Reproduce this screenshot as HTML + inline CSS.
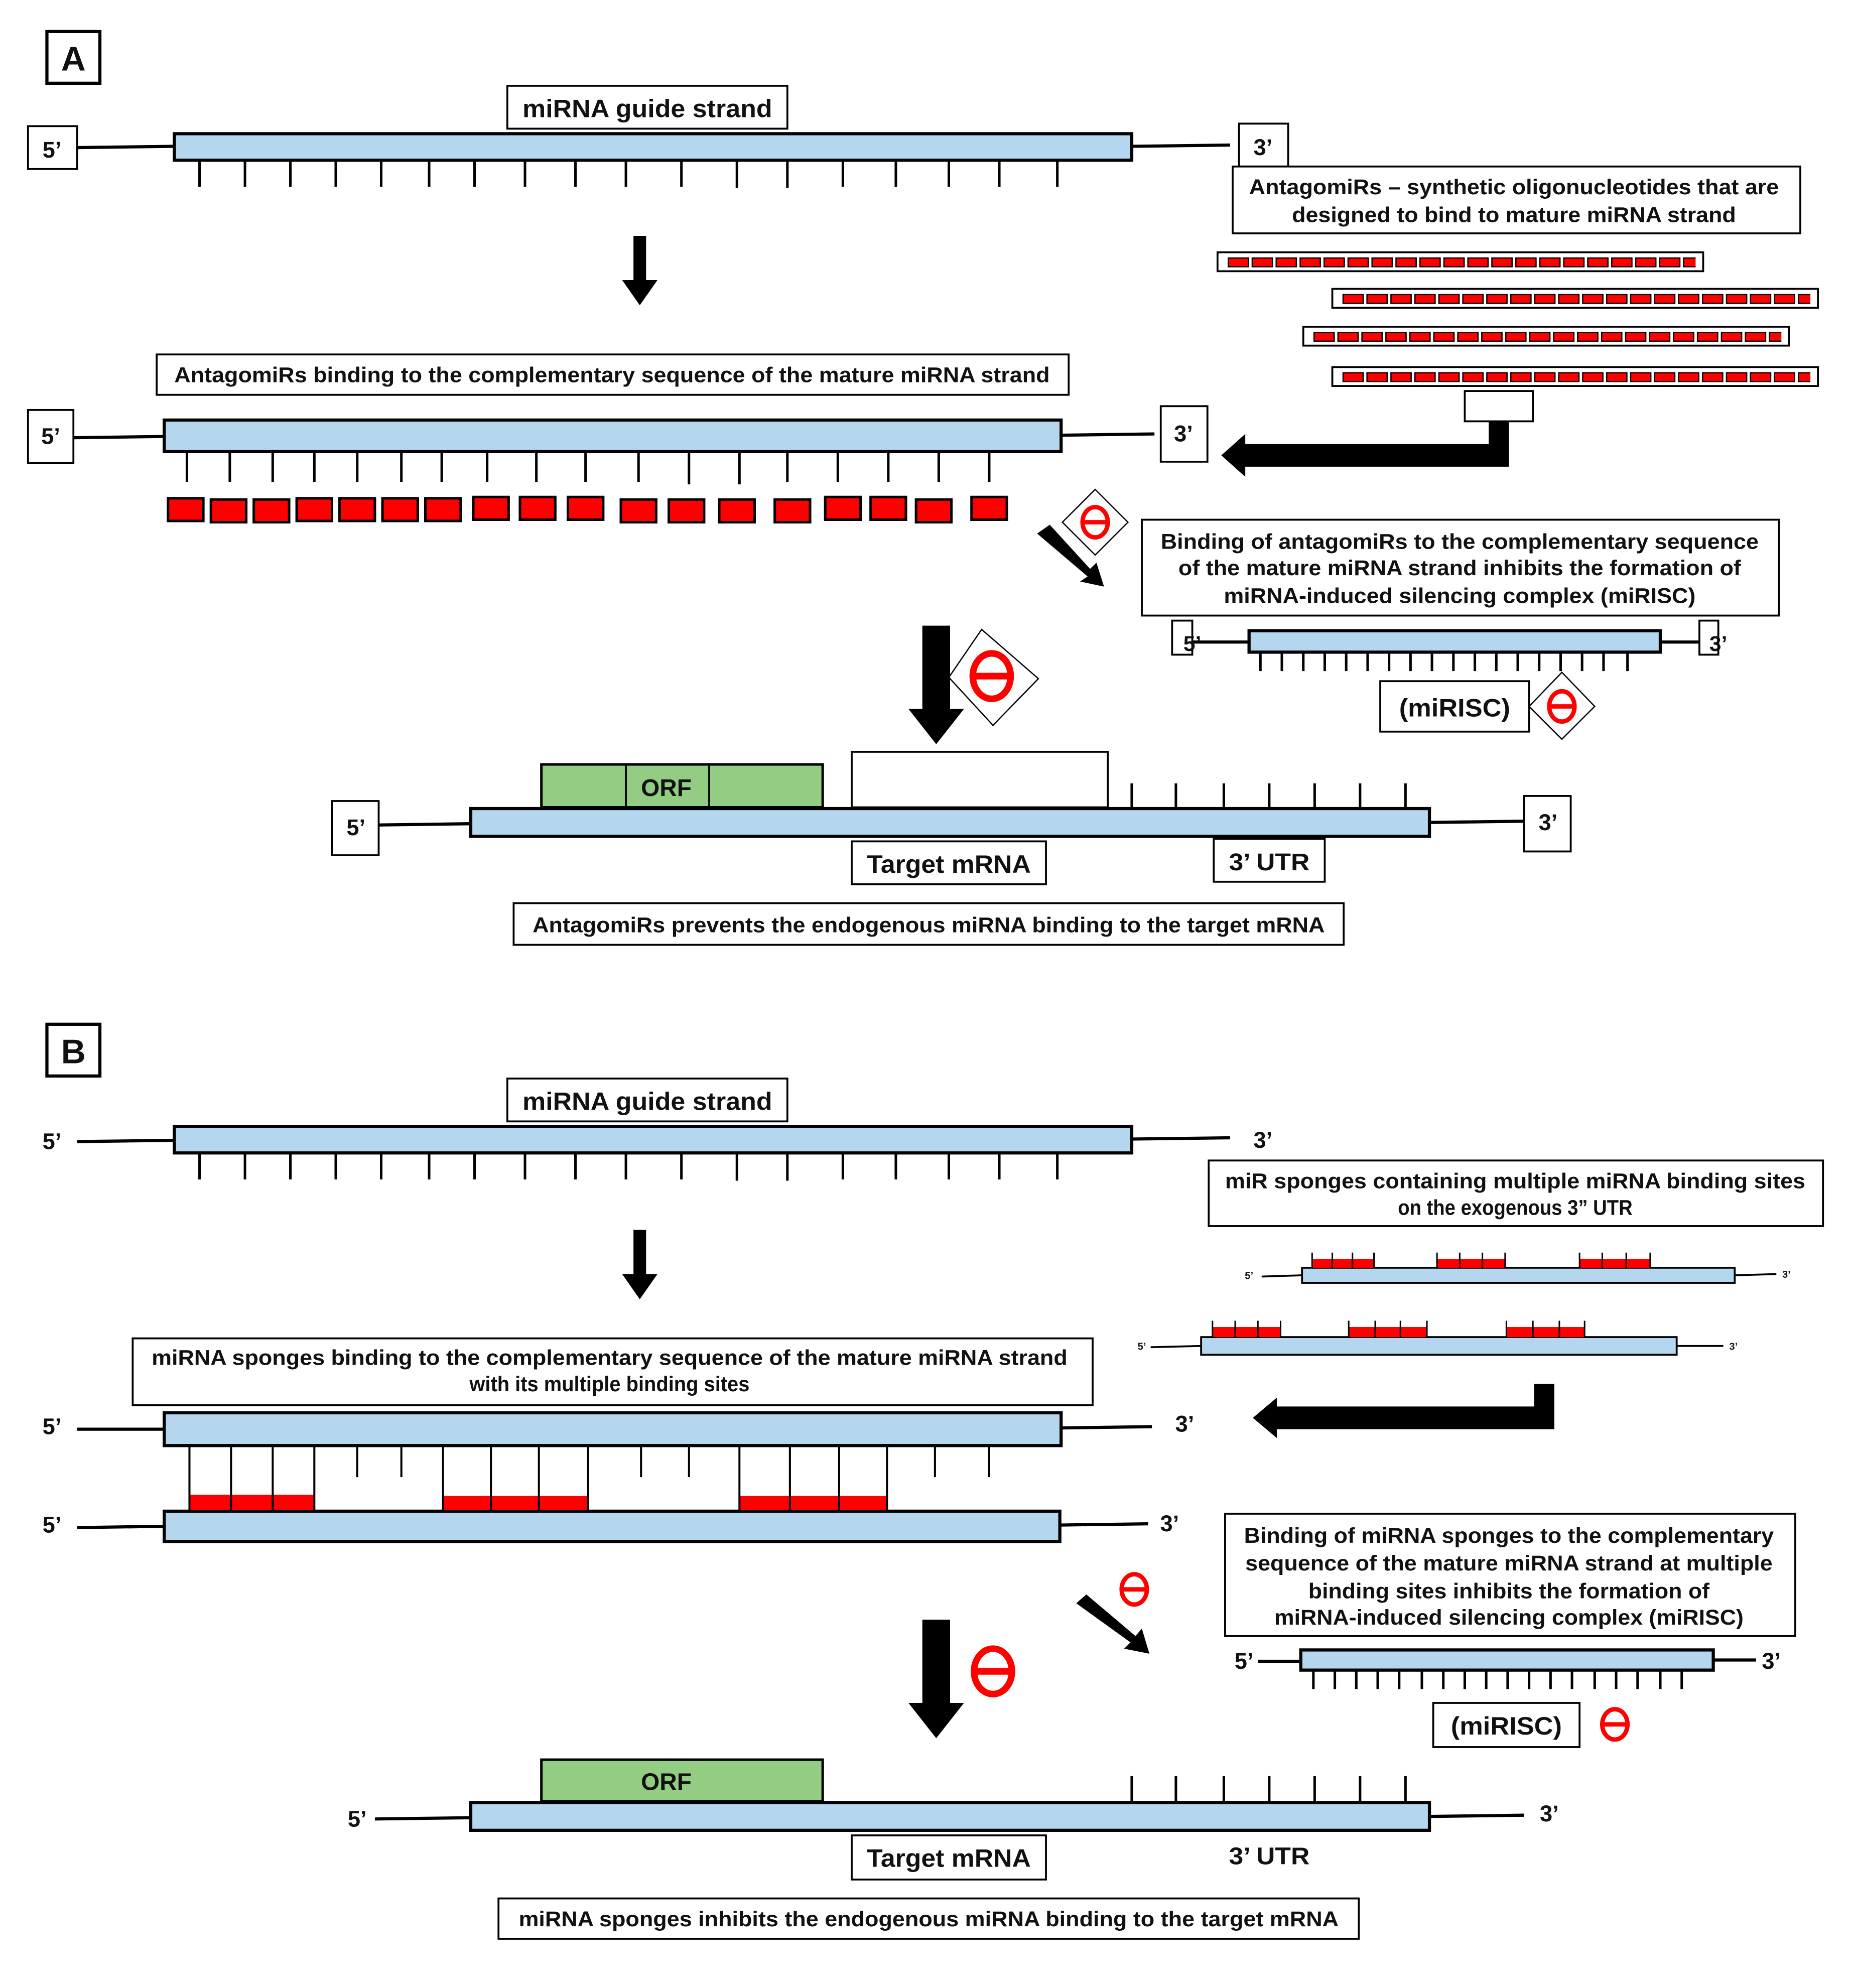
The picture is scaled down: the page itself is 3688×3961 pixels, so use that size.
<!DOCTYPE html>
<html><head><meta charset="utf-8">
<style>
html,body{margin:0;padding:0;background:#fff;}
svg{display:block;}
text{font-family:"Liberation Sans",Arial,sans-serif;font-weight:bold;fill:#111;}
</style></head>
<body>
<svg xmlns="http://www.w3.org/2000/svg" width="3688" height="3961" viewBox="0 0 1467 1576">
<defs>
<pattern id="r1" patternUnits="userSpaceOnUse" x="973" y="204" width="19" height="20"><rect x="0.5" y="0.5" width="16" height="7" fill="#f00" stroke="#000" stroke-width="1"/></pattern>
<pattern id="r2" patternUnits="userSpaceOnUse" x="1064" y="233" width="19" height="20"><rect x="0.5" y="0.5" width="16" height="7" fill="#f00" stroke="#000" stroke-width="1"/></pattern>
<pattern id="r3" patternUnits="userSpaceOnUse" x="1041" y="263" width="19" height="20"><rect x="0.5" y="0.5" width="16" height="7" fill="#f00" stroke="#000" stroke-width="1"/></pattern>
<pattern id="r4" patternUnits="userSpaceOnUse" x="1064" y="295" width="19" height="20"><rect x="0.5" y="0.5" width="16" height="7" fill="#f00" stroke="#000" stroke-width="1"/></pattern>
<g id="inh"><ellipse cx="0" cy="0" rx="10" ry="12" fill="none" stroke="#f00" stroke-width="3.5"/><line x1="-10" y1="0" x2="10" y2="0" stroke="#f00" stroke-width="3.5"/></g>
</defs>
<g stroke="#000" fill="none">
<!-- PANEL A -->
<rect x="37" y="25" width="42" height="41" stroke-width="2.5" fill="#fff"/>
<rect x="402" y="68" width="222" height="34" stroke-width="1.5" fill="#fff"/>
<rect x="22" y="100" width="39" height="34" stroke-width="1.5" fill="#fff"/>
<line x1="61" y1="117" x2="138" y2="116" stroke-width="2.5"/>
<rect x="138" y="106" width="759" height="21" fill="#b4d7ef" stroke-width="2.5"/>
<line x1="897" y1="116" x2="975" y2="115" stroke-width="2.5"/>
<rect x="982" y="98" width="39" height="34" stroke-width="1.5" fill="#fff"/>
<path stroke-width="2" d="M158 127v21M194 127v21M230 127v21M266 127v21M302 127v21M340 127v21M376 127v21M416 127v21M456 127v21M496 127v21M540 127v21M584 127v22M624 127v22M668 127v21M710 127v21M752 127v21M792 127v21M838 127v21"/>
<rect x="977" y="132" width="450" height="53" stroke-width="1.5" fill="#fff"/>
<rect x="965" y="200" width="385" height="15" stroke-width="1.5" fill="#fff"/>
<rect x="973" y="204" width="371" height="8" stroke="none" fill="url(#r1)"/>
<rect x="1056" y="229" width="385" height="15" stroke-width="1.5" fill="#fff"/>
<rect x="1064" y="233" width="371" height="8" stroke="none" fill="url(#r2)"/>
<rect x="1033" y="259" width="385" height="15" stroke-width="1.5" fill="#fff"/>
<rect x="1041" y="263" width="371" height="8" stroke="none" fill="url(#r3)"/>
<rect x="1056" y="291" width="385" height="15" stroke-width="1.5" fill="#fff"/>
<rect x="1064" y="295" width="371" height="8" stroke="none" fill="url(#r4)"/>
<rect x="1161" y="310" width="54" height="24" stroke-width="1.5" fill="#fff"/>
<rect x="124" y="281" width="723" height="32" stroke-width="1.5" fill="#fff"/>
<rect x="22" y="325" width="36" height="42" stroke-width="1.5" fill="#fff"/>
<line x1="58" y1="347" x2="130" y2="346" stroke-width="2.5"/>
<rect x="130" y="333" width="711" height="25" fill="#b4d7ef" stroke-width="2.5"/>
<line x1="841" y1="345" x2="915" y2="344" stroke-width="2.5"/>
<rect x="920" y="322" width="37" height="44" stroke-width="1.5" fill="#fff"/>
<path stroke-width="2" d="M148 358v24M182 358v24M216 358v24M249 358v24M283 358v24M318 358v24M350 358v24M386 358v24M425 358v24M464 358v24M506 358v24M546 358v26M586 358v26M624 358v24M664 358v24M704 358v24M744 358v24M784 358v24"/>
<rect x="905" y="412" width="505" height="76" stroke-width="1.5" fill="#fff"/>
<rect x="929" y="492" width="16" height="27" stroke-width="1.5" fill="#fff"/>
<line x1="945" y1="509" x2="990" y2="509" stroke-width="2.5"/>
<rect x="990" y="500" width="326" height="17" fill="#b4d7ef" stroke-width="2.5"/>
<line x1="1316" y1="509" x2="1347" y2="509" stroke-width="2.5"/>
<rect x="1347" y="492" width="15" height="27" stroke-width="1.5" fill="#fff"/>
<path stroke-width="2" d="M999 517v15M1016 517v15M1033 517v15M1050 517v15M1067 517v15M1084 517v15M1101 517v15M1118 517v15M1135 517v15M1152 517v15M1169 517v15M1186 517v15M1203 517v15M1220 517v15M1237 517v15M1254 517v15M1271 517v15M1290 517v15"/>
<rect x="1094" y="540" width="118" height="40" stroke-width="1.5" fill="#fff"/>
<rect x="429" y="606" width="223" height="34" fill="#93cd84" stroke-width="2"/>
<path stroke-width="1.5" d="M496 606v34M562 606v34"/>
<rect x="675" y="596" width="203" height="44" stroke-width="1.5" fill="#fff"/>
<path stroke-width="2" d="M897 621v20M932 621v20M970 621v20M1006 621v20M1042 621v20M1078 621v20M1114 621v20"/>
<rect x="263" y="635" width="37" height="43" stroke-width="1.5" fill="#fff"/>
<line x1="300" y1="654" x2="373" y2="653" stroke-width="2.5"/>
<rect x="373" y="641" width="760" height="22" fill="#b4d7ef" stroke-width="2.5"/>
<line x1="1133" y1="652" x2="1208" y2="651" stroke-width="2.5"/>
<rect x="1208" y="631" width="37" height="44" stroke-width="1.5" fill="#fff"/>
<rect x="675" y="667" width="154" height="34" stroke-width="1.5" fill="#fff"/>
<rect x="962" y="665" width="88" height="34" stroke-width="1.5" fill="#fff"/>
<rect x="407" y="716" width="658" height="33" stroke-width="1.5" fill="#fff"/>
<polygon points="868,388 894,414 868,440 842,414" stroke-width="1" fill="#fff"/>
<polygon points="778,499 823,538 787,575 752,537" stroke-width="1" fill="#fff"/>
<polygon points="1238,533 1264,560 1238,586 1212,560" stroke-width="1" fill="#fff"/>
</g>
<g fill="#f00" stroke="#000" stroke-width="2">
<rect x="133" y="395" width="28" height="18"/><rect x="167" y="396" width="28" height="18"/><rect x="201" y="396" width="28" height="18"/><rect x="235" y="395" width="28" height="18"/><rect x="269" y="395" width="28" height="18"/><rect x="303" y="395" width="28" height="18"/><rect x="337" y="395" width="28" height="18"/><rect x="375" y="394" width="28" height="18"/><rect x="412" y="394" width="28" height="18"/><rect x="450" y="394" width="28" height="18"/><rect x="492" y="396" width="28" height="18"/><rect x="530" y="396" width="28" height="18"/><rect x="570" y="396" width="28" height="18"/><rect x="614" y="396" width="28" height="18"/><rect x="654" y="394" width="28" height="18"/><rect x="690" y="394" width="28" height="18"/><rect x="726" y="396" width="28" height="18"/><rect x="770" y="394" width="28" height="18"/>
</g>
<g fill="#000">
<polygon points="502,187 512,187 512,222 521,222 507,242 493,222 502,222"/>
<polygon points="1180,334 1196,334 1196,370 987,370 987,378 968,361 987,344 987,352 1180,352"/>
<polygon points="822,423 832,416 864,451 869,446 875,465 856,461 862,457"/>
<polygon points="731,496 753,496 753,562 764,562 742,590 720,562 731,562"/>
</g>
<use href="#inh" x="868" y="414"/>
<use href="#inh" transform="translate(786,536) scale(1.5)"/>
<use href="#inh" x="1238" y="560"/>
<text x="58" y="56" font-size="27" text-anchor="middle">A</text>
<text x="513" y="93" font-size="20" text-anchor="middle" textLength="198" lengthAdjust="spacingAndGlyphs">miRNA guide strand</text>
<text x="41" y="125" font-size="18" text-anchor="middle">5’</text>
<text x="1001" y="123" font-size="18" text-anchor="middle">3’</text>
<text x="1200" y="154" font-size="17" text-anchor="middle" textLength="420" lengthAdjust="spacingAndGlyphs">AntagomiRs – synthetic oligonucleotides that are</text>
<text x="1200" y="176" font-size="17" text-anchor="middle" textLength="352" lengthAdjust="spacingAndGlyphs">designed to bind to mature miRNA strand</text>
<text x="485" y="303" font-size="17" text-anchor="middle" textLength="694" lengthAdjust="spacingAndGlyphs">AntagomiRs binding to the complementary sequence of the mature miRNA strand</text>
<text x="40" y="352" font-size="18" text-anchor="middle">5’</text>
<text x="938" y="350" font-size="18" text-anchor="middle">3’</text>
<text x="1157" y="435" font-size="17" text-anchor="middle" textLength="474" lengthAdjust="spacingAndGlyphs">Binding of antagomiRs to the complementary sequence</text>
<text x="1157" y="456" font-size="17" text-anchor="middle" textLength="446" lengthAdjust="spacingAndGlyphs">of the mature miRNA strand inhibits the formation of</text>
<text x="1157" y="478" font-size="17" text-anchor="middle" textLength="374" lengthAdjust="spacingAndGlyphs">miRNA-induced silencing complex (miRISC)</text>
<text x="945" y="516" font-size="17" text-anchor="middle">5’</text>
<text x="1362" y="516" font-size="17" text-anchor="middle">3’</text>
<text x="1153" y="568" font-size="20" text-anchor="middle" textLength="88" lengthAdjust="spacingAndGlyphs">(miRISC)</text>
<text x="528" y="631" font-size="19" text-anchor="middle">ORF</text>
<text x="282" y="662" font-size="18" text-anchor="middle">5’</text>
<text x="1227" y="658" font-size="18" text-anchor="middle">3’</text>
<text x="752" y="692" font-size="20" text-anchor="middle" textLength="130" lengthAdjust="spacingAndGlyphs">Target mRNA</text>
<text x="1006" y="690" font-size="19" text-anchor="middle" textLength="64" lengthAdjust="spacingAndGlyphs">3’ UTR</text>
<text x="736" y="739" font-size="17" text-anchor="middle" textLength="628" lengthAdjust="spacingAndGlyphs">AntagomiRs prevents the endogenous miRNA binding to the target mRNA</text>

<g stroke="#000" fill="none">
<rect x="37" y="812" width="42" height="41" stroke-width="2.5" fill="#fff"/>
<rect x="402" y="855" width="222" height="34" stroke-width="1.5" fill="#fff"/>
<line x1="61" y1="905" x2="138" y2="904" stroke-width="2.5"/>
<rect x="138" y="893" width="759" height="21" fill="#b4d7ef" stroke-width="2.5"/>
<line x1="897" y1="903" x2="975" y2="902" stroke-width="2.5"/>
<path stroke-width="2" d="M158 914v21M194 914v21M230 914v21M266 914v21M302 914v21M340 914v21M376 914v21M416 914v21M456 914v21M496 914v21M540 914v21M584 914v22M624 914v22M668 914v21M710 914v21M752 914v21M792 914v21M838 914v21"/>
<rect x="958" y="920" width="487" height="52" stroke-width="1.5" fill="#fff"/>
<line x1="1000" y1="1012" x2="1032" y2="1011" stroke-width="1.5"/>
<rect x="1032" y="1005" width="343" height="12" fill="#b4d7ef" stroke-width="1.5"/>
<line x1="1375" y1="1011" x2="1408" y2="1010" stroke-width="1.5"/>
<g fill="#f00" stroke="none"><rect x="1040" y="998" width="49" height="7"/><rect x="1139" y="998" width="54" height="7"/><rect x="1252" y="998" width="56" height="7"/></g>
<path stroke-width="1.2" d="M1040 993v12M1056 993v12M1072 993v12M1089 993v12M1139 993v12M1157 993v12M1175 993v12M1193 993v12M1252 993v12M1270 993v12M1289 993v12M1308 993v12"/>
<line x1="912" y1="1068" x2="952" y2="1067" stroke-width="1.5"/>
<rect x="952" y="1060" width="377" height="14" fill="#b4d7ef" stroke-width="1.5"/>
<line x1="1329" y1="1067" x2="1366" y2="1067" stroke-width="1.5"/>
<g fill="#f00" stroke="none"><rect x="961" y="1052" width="54" height="8"/><rect x="1069" y="1052" width="62" height="8"/><rect x="1194" y="1052" width="62" height="8"/></g>
<path stroke-width="1.2" d="M961 1047v13M979 1047v13M997 1047v13M1015 1047v13M1069 1047v13M1090 1047v13M1110 1047v13M1131 1047v13M1194 1047v13M1215 1047v13M1236 1047v13M1256 1047v13"/>
<rect x="105" y="1061" width="761" height="53" stroke-width="1.5" fill="#fff"/>
<line x1="61" y1="1133" x2="130" y2="1133" stroke-width="2.5"/>
<rect x="130" y="1120" width="711" height="26" fill="#b4d7ef" stroke-width="2.5"/>
<line x1="841" y1="1132" x2="913" y2="1131" stroke-width="2.5"/>
<line x1="61" y1="1211" x2="130" y2="1210" stroke-width="2.5"/>
<rect x="130" y="1198" width="710" height="24" fill="#b4d7ef" stroke-width="2.5"/>
<line x1="840" y1="1209" x2="910" y2="1208" stroke-width="2.5"/>
<g fill="#f00" stroke="none"><rect x="150" y="1185" width="99" height="12"/><rect x="351" y="1186" width="115" height="11"/><rect x="586" y="1186" width="117" height="11"/></g>
<path stroke-width="1.6" d="M150 1146v52M183 1146v52M216 1146v52M249 1146v52M351 1146v52M389 1146v52M427 1146v52M466 1146v52M586 1146v52M626 1146v52M665 1146v52M703 1146v52M283 1146v25M318 1146v25M508 1146v25M546 1146v25M741 1146v25M784 1146v25"/>
<rect x="971" y="1200" width="452" height="97" stroke-width="1.5" fill="#fff"/>
<line x1="997" y1="1317" x2="1031" y2="1317" stroke-width="2.5"/>
<rect x="1031" y="1308" width="327" height="16" fill="#b4d7ef" stroke-width="2.5"/>
<line x1="1358" y1="1316" x2="1392" y2="1316" stroke-width="2.5"/>
<path stroke-width="2" d="M1041 1324v15M1058 1324v15M1075 1324v15M1092 1324v15M1109 1324v15M1127 1324v15M1144 1324v15M1161 1324v15M1178 1324v15M1195 1324v15M1212 1324v15M1229 1324v15M1246 1324v15M1264 1324v15M1281 1324v15M1298 1324v15M1316 1324v15M1333 1324v15"/>
<rect x="1136" y="1350" width="116" height="35" stroke-width="1.5" fill="#fff"/>
<rect x="429" y="1395" width="223" height="33" fill="#93cd84" stroke-width="2"/>
<path stroke-width="2" d="M897 1408v21M932 1408v21M970 1408v21M1006 1408v21M1042 1408v21M1078 1408v21M1114 1408v21"/>
<line x1="297" y1="1442" x2="373" y2="1441" stroke-width="2.5"/>
<rect x="373" y="1429" width="760" height="22" fill="#b4d7ef" stroke-width="2.5"/>
<line x1="1133" y1="1440" x2="1208" y2="1439" stroke-width="2.5"/>
<rect x="675" y="1455" width="154" height="35" stroke-width="1.5" fill="#fff"/>
<rect x="395" y="1505" width="682" height="32" stroke-width="1.5" fill="#fff"/>
</g>
<g fill="#000">
<polygon points="502,975 512,975 512,1010 521,1010 507,1030 493,1010 502,1010"/>
<polygon points="1216,1097 1232,1097 1232,1133 1012,1133 1012,1140 993,1124 1012,1108 1012,1115 1216,1115"/>
<polygon points="853,1271 861,1264 900,1297 905,1291 911,1311 891,1307 896,1302"/>
<polygon points="731,1284 753,1284 753,1350 764,1350 742,1378 720,1350 731,1350"/>
</g>
<use href="#inh" x="899" y="1260"/>
<use href="#inh" transform="translate(787,1325) scale(1.5)"/>
<use href="#inh" x="1280" y="1367"/>
<text x="58" y="843" font-size="27" text-anchor="middle">B</text>
<text x="513" y="880" font-size="20" text-anchor="middle" textLength="198" lengthAdjust="spacingAndGlyphs">miRNA guide strand</text>
<text x="41" y="911" font-size="18" text-anchor="middle">5’</text>
<text x="1001" y="910" font-size="18" text-anchor="middle">3’</text>
<text x="1201" y="942" font-size="17" text-anchor="middle" textLength="460" lengthAdjust="spacingAndGlyphs">miR sponges containing multiple miRNA binding sites</text>
<text x="1201" y="963" font-size="17" text-anchor="middle" textLength="186" lengthAdjust="spacingAndGlyphs">on the exogenous 3” UTR</text>
<text x="990" y="1014" font-size="8" text-anchor="middle">5’</text>
<text x="1416" y="1013" font-size="8" text-anchor="middle">3’</text>
<text x="905" y="1070" font-size="8" text-anchor="middle">5’</text>
<text x="1374" y="1070" font-size="8" text-anchor="middle">3’</text>
<text x="483" y="1082" font-size="17" text-anchor="middle" textLength="726" lengthAdjust="spacingAndGlyphs">miRNA sponges binding to the complementary sequence of the mature miRNA strand</text>
<text x="483" y="1103" font-size="17" text-anchor="middle" textLength="222" lengthAdjust="spacingAndGlyphs">with its multiple binding sites</text>
<text x="41" y="1137" font-size="18" text-anchor="middle">5’</text>
<text x="939" y="1135" font-size="18" text-anchor="middle">3’</text>
<text x="41" y="1215" font-size="18" text-anchor="middle">5’</text>
<text x="927" y="1214" font-size="18" text-anchor="middle">3’</text>
<text x="1196" y="1223" font-size="17" text-anchor="middle" textLength="420" lengthAdjust="spacingAndGlyphs">Binding of miRNA sponges to the complementary</text>
<text x="1196" y="1245" font-size="17" text-anchor="middle" textLength="418" lengthAdjust="spacingAndGlyphs">sequence of the mature miRNA strand at multiple</text>
<text x="1196" y="1267" font-size="17" text-anchor="middle" textLength="318" lengthAdjust="spacingAndGlyphs">binding sites inhibits the formation of</text>
<text x="1196" y="1288" font-size="17" text-anchor="middle" textLength="372" lengthAdjust="spacingAndGlyphs">miRNA-induced silencing complex (miRISC)</text>
<text x="986" y="1323" font-size="18" text-anchor="middle">5’</text>
<text x="1404" y="1323" font-size="18" text-anchor="middle">3’</text>
<text x="1194" y="1375" font-size="20" text-anchor="middle" textLength="88" lengthAdjust="spacingAndGlyphs">(miRISC)</text>
<text x="528" y="1419" font-size="19" text-anchor="middle">ORF</text>
<text x="283" y="1448" font-size="18" text-anchor="middle">5’</text>
<text x="1228" y="1444" font-size="18" text-anchor="middle">3’</text>
<text x="752" y="1480" font-size="20" text-anchor="middle" textLength="130" lengthAdjust="spacingAndGlyphs">Target mRNA</text>
<text x="1006" y="1478" font-size="19" text-anchor="middle" textLength="64" lengthAdjust="spacingAndGlyphs">3’ UTR</text>
<text x="736" y="1527" font-size="17" text-anchor="middle" textLength="650" lengthAdjust="spacingAndGlyphs">miRNA sponges inhibits the endogenous miRNA binding to the target mRNA</text>
</svg>
</body></html>
